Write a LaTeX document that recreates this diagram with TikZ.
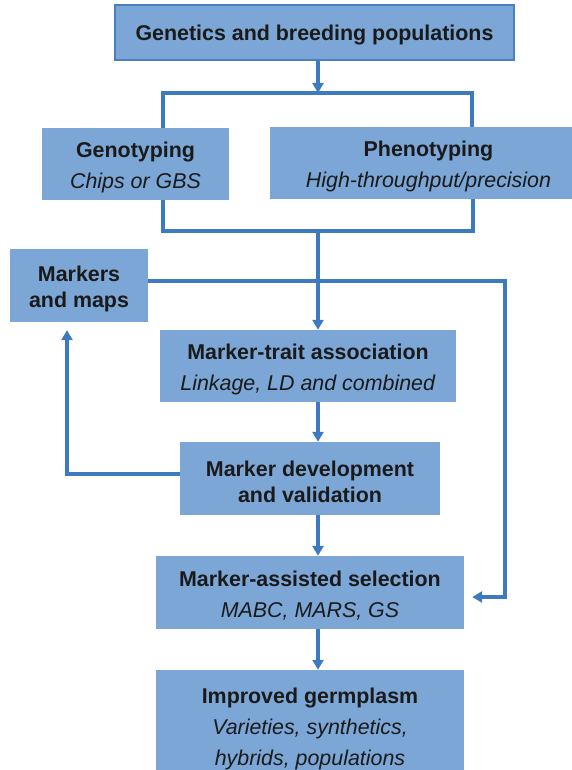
\documentclass[tikz,border=0pt]{standalone}
\usepackage{fontspec}
\setmainfont{Liberation Sans}
\usetikzlibrary{arrows.meta}
\definecolor{boxfill}{HTML}{7BA6D6}
\definecolor{linec}{HTML}{3D7ABF}
\definecolor{topborder}{HTML}{4A80C2}
\definecolor{txt}{HTML}{1A1A1A}
\newcommand\tup{\rule{0pt}{21.5pt}}
\begin{document}
\begin{tikzpicture}[x=1pt,y=-1pt,
  box/.style={fill=boxfill, draw=none, inner sep=0pt, align=center, text=txt,
    font=\fontsize{21.4}{26}\selectfont},
  conn/.style={draw=linec, line width=3.2pt},
  arr/.style={conn, -{Triangle[length=10pt,width=11pt]}}]
\useasboundingbox (0,0) rectangle (572,770);

\node[box, minimum width=399pt, minimum height=55pt, draw=topborder, line width=2pt] (top) at (314.5,32.5)
  {\tup\textbf{Genetics and breeding populations}};
\node[box, minimum width=187pt, minimum height=72pt] (geno) at (135.5,164)
  {\tup\textbf{Genotyping}\\[5pt]\textit{Chips or GBS}};
\node[box, minimum width=317pt, minimum height=72pt] (pheno) at (428.5,163)
  {\tup\textbf{Phenotyping}\\[5pt]\textit{High-throughput/precision}};
\node[box, minimum width=138pt, minimum height=73pt] (markers) at (79,285.5)
  {\tup\textbf{Markers}\\\textbf{and maps}};
\node[box, minimum width=296pt, minimum height=72pt] (mta) at (308,366)
  {\tup\textbf{Marker-trait association}\\[5pt]\textit{Linkage, LD and combined}};
\node[box, minimum width=260pt, minimum height=73pt] (mdev) at (310,478.5)
  {\tup\textbf{Marker development}\\\textbf{and validation}};
\node[box, minimum width=308pt, minimum height=73pt] (mas) at (310,592.5)
  {\tup\textbf{Marker-assisted selection}\\[5pt]\textit{MABC, MARS, GS}};
\node[box, minimum width=308pt, minimum height=111pt] (imp) at (310,725.5)
  {\tup\textbf{Improved germplasm}\\[5pt]\textit{Varieties, synthetics,}\\[5pt]\textit{hybrids, populations}};

\coordinate (split) at (318,93);
\coordinate (gx) at (163,93);
\coordinate (px) at (472,93);
\coordinate (gy) at (163,231);
\coordinate (py) at (473,231);
\coordinate (join) at (318,231);
\coordinate (mr) at (505,281);
\coordinate (masin) at (505,597);
\coordinate (ml) at (67,474);

\draw[arr] (top.south -| split) -- (split);
\draw[conn] (geno.north -| gx) -- (gx) -- (px) -- (pheno.north -| px);
\draw[conn] (geno.south -| gy) -- (gy) -- (py) -- (pheno.south -| py);
\draw[arr] (join) -- (mta.north -| join);
\draw[arr, shorten >=8pt] (markers.east |- mr) -- (mr) -- (masin) -- (mas.east |- masin);
\draw[arr] (mta.south -| join) -- (mdev.north -| join);
\draw[arr, shorten >=8pt] (mdev.west |- ml) -- (ml) -- (markers.south -| ml);
\draw[arr] (mdev.south -| join) -- (mas.north -| join);
\draw[arr] (mas.south -| join) -- (imp.north -| join);
\end{tikzpicture}
\end{document}
